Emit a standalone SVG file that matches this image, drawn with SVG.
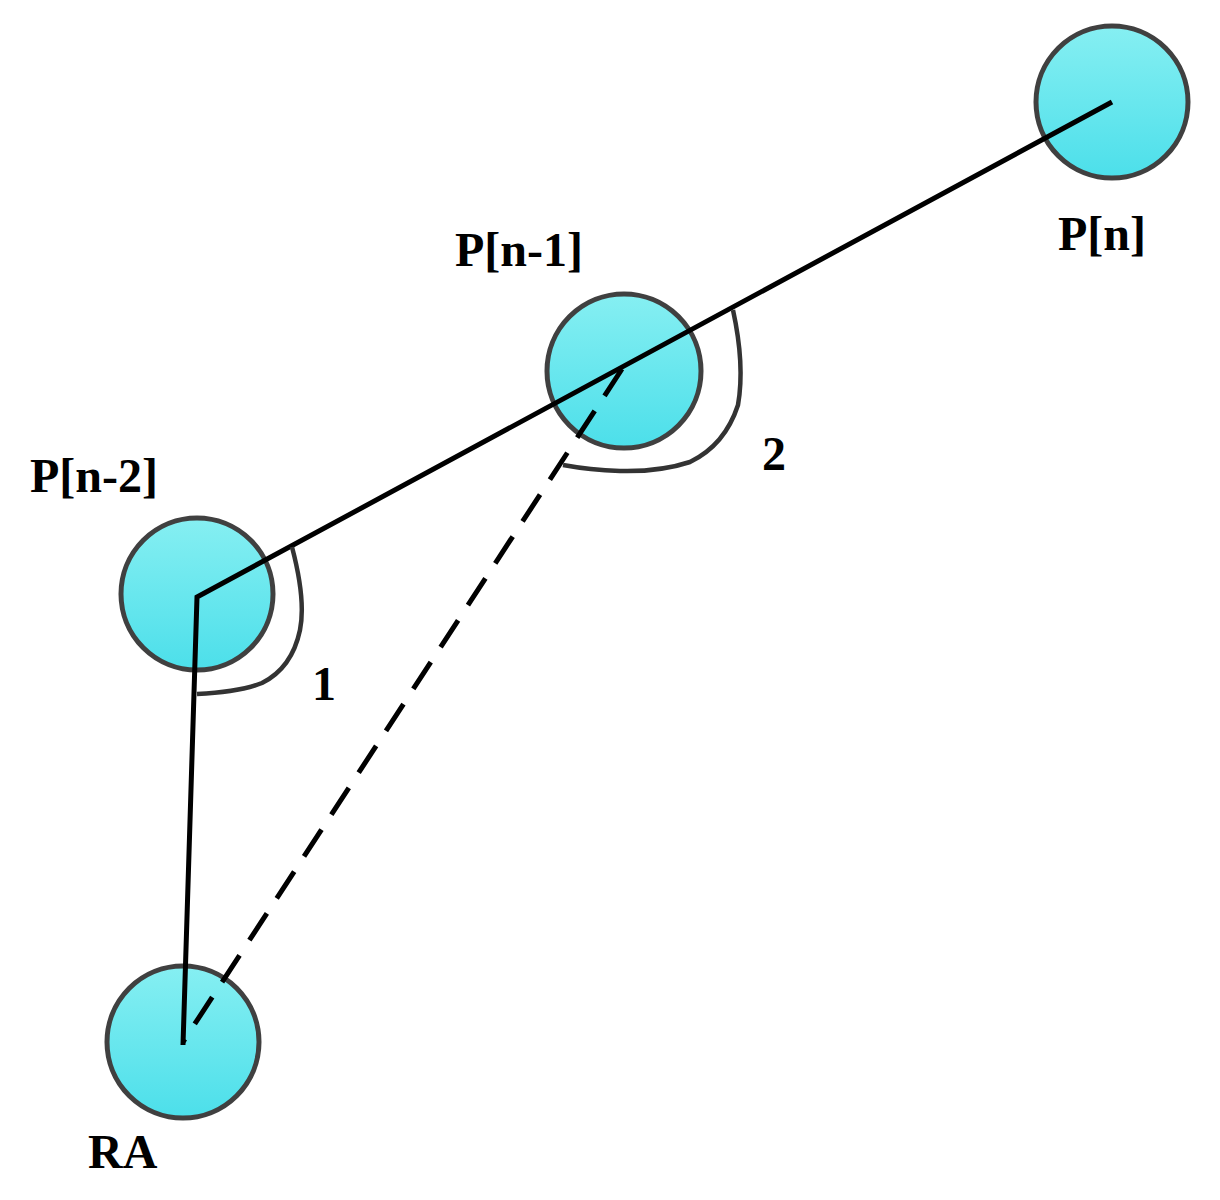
<svg xmlns="http://www.w3.org/2000/svg" width="1220" height="1200" viewBox="0 0 1220 1200">
<defs>
<linearGradient id="g" x1="0" y1="0" x2="0" y2="1"><stop offset="0" stop-color="#86EFF2"/><stop offset="1" stop-color="#4CDFEA"/></linearGradient>
<style>
.n{fill:url(#g);stroke:#404040;stroke-width:5}
.l{fill:none;stroke:#000;stroke-width:5}
.a{fill:none;stroke:#333;stroke-width:4.5}
text{font-family:"Liberation Serif",serif;font-weight:bold;font-size:48px;fill:#000}
</style>
</defs>
<rect width="1220" height="1200" fill="#fff"/>
<g id="Pn"><circle class="n" cx="1112" cy="102" r="76"/><text x="1058" y="250">P[n]</text></g>
<g id="Pn1"><circle class="n" cx="624" cy="371" r="77"/><text x="455" y="266">P[n-1]</text></g>
<g id="Pn2"><circle class="n" cx="197" cy="594" r="76"/><text x="30" y="492">P[n-2]</text></g>
<g id="RA"><circle class="n" cx="183" cy="1042" r="76"/><text x="88" y="1168">RA</text></g>
<g id="connectors">
<polyline class="l" points="1112,102 197,597 183,1045"/>
<line class="l" x1="622" y1="369" x2="183" y2="1042" stroke-dasharray="32,18"/>
<path class="a" d="M292,547 Q306,600 300,630 Q292,668 262,683 Q240,692 197,694"/>
<path class="a" d="M733,310 Q745,365 738,405 Q725,445 690,462 Q660,472 620,471 Q590,470 563,465"/>
</g>
<text x="312" y="700">1</text>
<text x="762" y="470">2</text>
</svg>
